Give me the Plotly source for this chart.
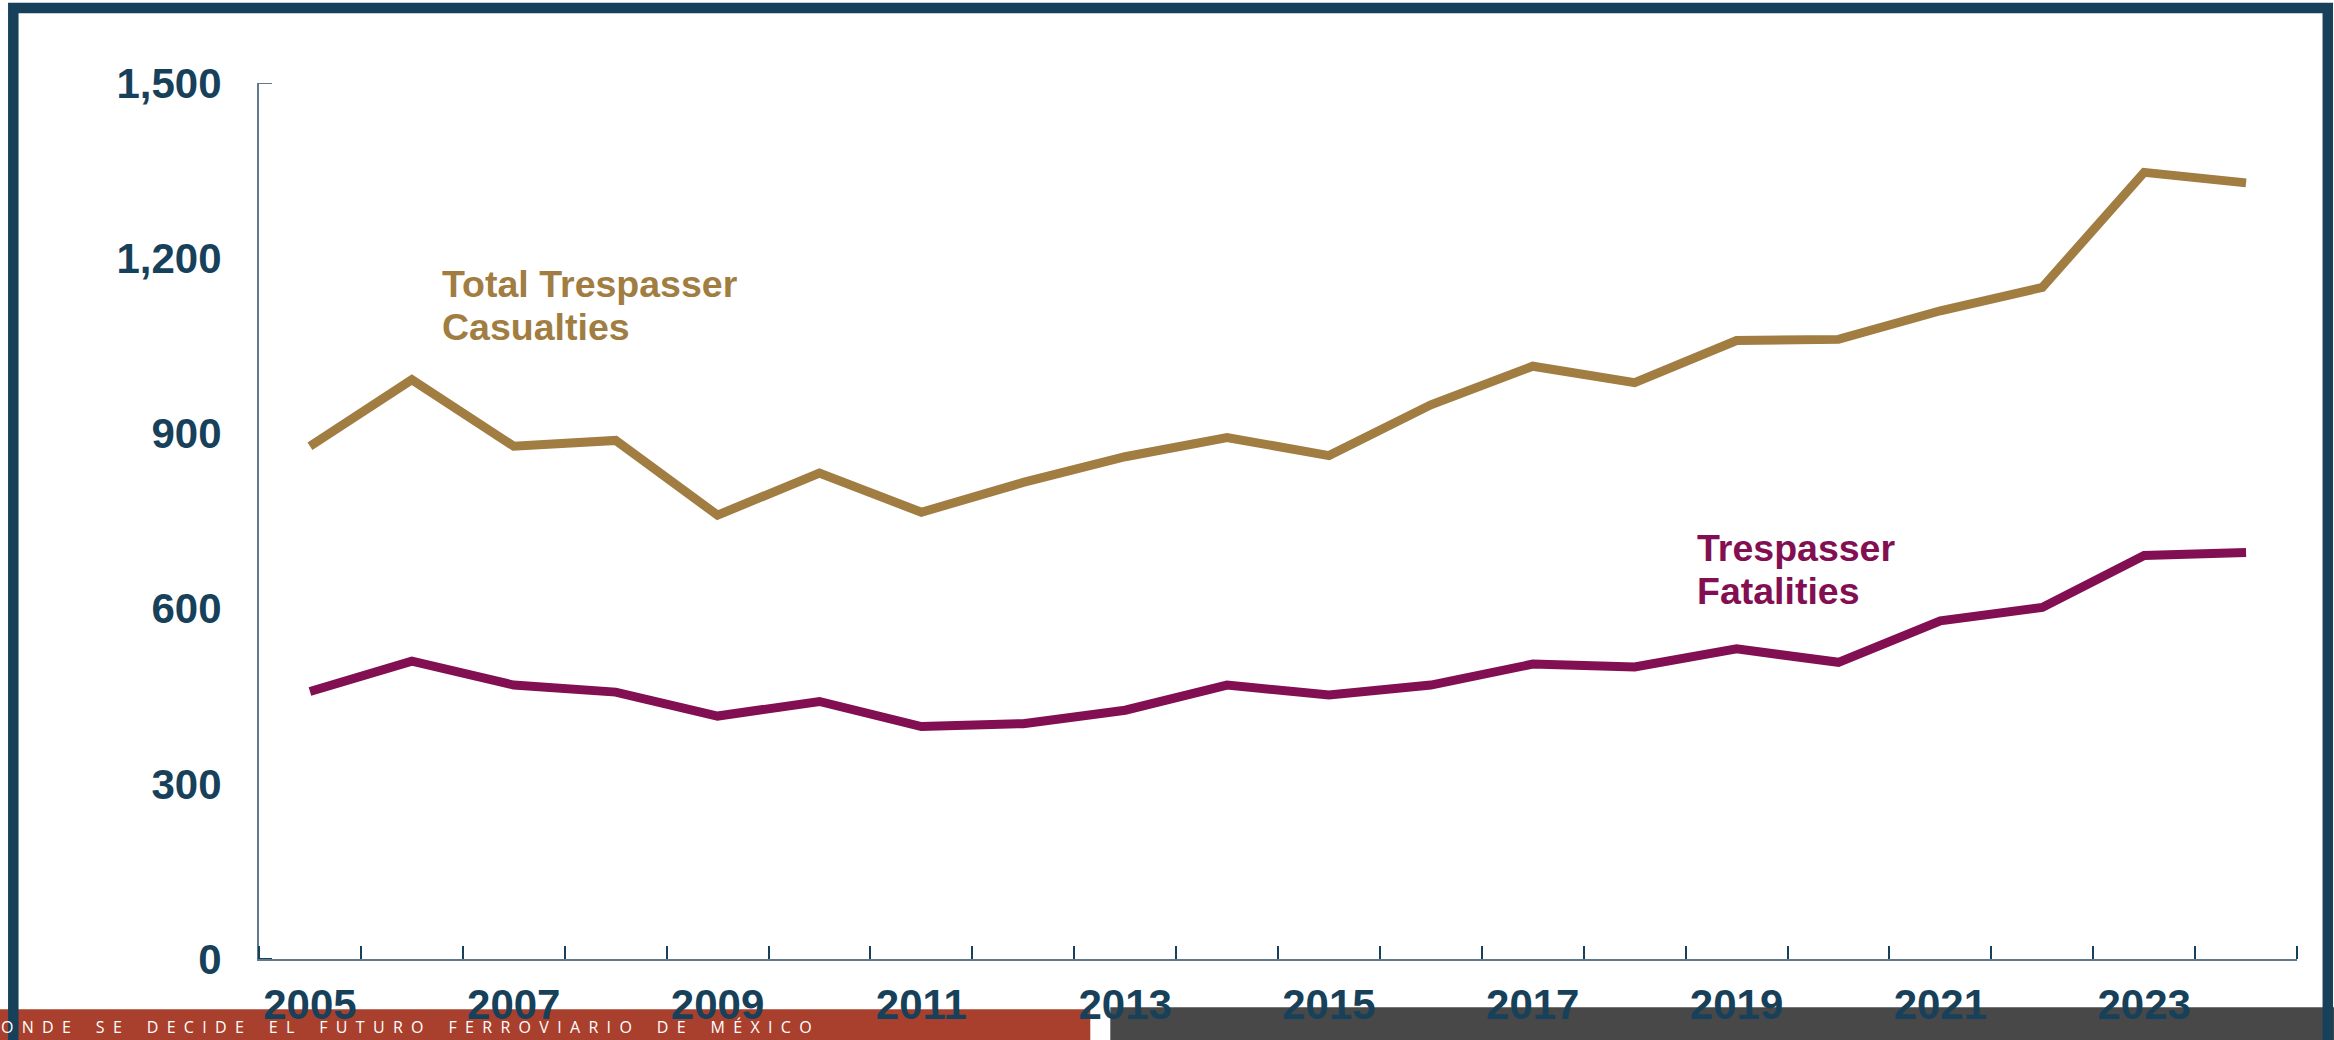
import plotly.graph_objects as go

# ---- data ----
years = list(range(2005, 2025))
total_casualties = [878, 992, 878, 888, 760, 832, 765, 816, 860, 893,
                    862, 949, 1015, 987, 1059, 1061, 1110, 1150, 1347, 1329]
fatalities = [458, 510, 469, 457, 416, 441, 398, 403, 426, 469,
              452, 469, 505, 500, 531, 508, 579, 602, 691, 696]
x_tick_years = [2005, 2007, 2009, 2011, 2013, 2015, 2017, 2019, 2021, 2023]
y_ticks = [0, 300, 600, 900, 1200, 1500]
y_tick_text = ["0", "300", "600", "900", "1,200", "1,500"]

GOLD = "#A17D42"
PURPLE = "#820F52"
NAVY = "#17415A"
RED = "#A9402D"
GRAY = "#484848"

W, H = 2334, 1040
L, R, T, B = 258.7, 2296.7, 83.0, 958.8   # plot area in pixels


def px(xp):
    return (xp - L) / (R - L)


def py(yp):
    return (B - yp) / (B - T)


fig = go.Figure()
fig.add_trace(go.Scatter(x=years, y=total_casualties, mode="lines",
                         line=dict(color=GOLD, width=9), hoverinfo="skip",
                         showlegend=False))
fig.add_trace(go.Scatter(x=years, y=fatalities, mode="lines",
                         line=dict(color=PURPLE, width=9), hoverinfo="skip",
                         showlegend=False))

tick_font = dict(family="Liberation Sans, Arial", size=42, color=NAVY, weight=700)

fig.update_xaxes(
    range=[2004.5, 2024.5], showgrid=False, zeroline=False, automargin=False,
    showline=True, linecolor="#60798c", linewidth=2,
    tickvals=x_tick_years, ticktext=[str(y) for y in x_tick_years],
    ticks="", tickfont=tick_font, ticklabelstandoff=8,
    minor=dict(tickvals=[y - 0.5 for y in years] + [years[-1] + 0.5],
               ticks="inside", ticklen=13, tickwidth=1.5, tickcolor=NAVY,
               showgrid=False),
)
fig.update_yaxes(
    range=[0, 1500], showgrid=False, zeroline=False, automargin=False,
    showline=True, linecolor="#60798c", linewidth=2,
    tickvals=y_ticks, ticktext=y_tick_text, ticks="",
    tickfont=tick_font, ticklabelstandoff=27,
)

shapes = [
    # end ticks on y axis
    dict(type="line", xref="paper", yref="y", x0=0, x1=px(L + 13), y0=0, y1=0,
         line=dict(color=NAVY, width=2)),
    dict(type="line", xref="paper", yref="y", x0=0, x1=px(L + 13), y0=1500, y1=1500,
         line=dict(color="#60798c", width=2)),
    # bottom bands
    dict(type="rect", xref="paper", yref="paper", x0=px(-5), x1=px(1090),
         y0=py(1009), y1=py(1050), fillcolor=RED, line=dict(width=0), layer="below"),
    dict(type="rect", xref="paper", yref="paper", x0=px(1110), x1=px(2345),
         y0=py(1007), y1=py(1050), fillcolor=GRAY, line=dict(width=0), layer="below"),
    # frame
    dict(type="rect", xref="paper", yref="paper", x0=px(13), x1=px(2327.5),
         y0=py(8), y1=py(1060), fillcolor="rgba(0,0,0,0)",
         line=dict(color=NAVY, width=10.5), layer="above"),
]

label_font_g = dict(family="Liberation Sans, Arial", size=37.5, color=GOLD, weight=700)
label_font_p = dict(family="Liberation Sans, Arial", size=37.5, color=PURPLE, weight=700)

annotations = [
    dict(text="Total Trespasser", x=px(440), y=py(283.5), xref="paper", yref="paper",
         xanchor="left", yanchor="middle", showarrow=False, font=label_font_g),
    dict(text="Casualties", x=px(440), y=py(327), xref="paper", yref="paper",
         xanchor="left", yanchor="middle", showarrow=False, font=label_font_g),
    dict(text="Trespasser", x=px(1695), y=py(548), xref="paper", yref="paper",
         xanchor="left", yanchor="middle", showarrow=False, font=label_font_p),
    dict(text="Fatalities", x=px(1695), y=py(590.5), xref="paper", yref="paper",
         xanchor="left", yanchor="middle", showarrow=False, font=label_font_p),
]

slogan = "DONDE SE DECIDE EL FUTURO FERROVIARIO DE MÉXICO"
spaced = ("\u00a0" * 6).join(("\u00a0" * 2).join(list(w)) for w in slogan.split(" "))
annotations.append(
    dict(text=spaced, x=px(814), y=py(1027), xref="paper", yref="paper",
         xanchor="right", yanchor="middle", showarrow=False,
         font=dict(family="Open Sans, Lato", size=16, color="white"))
)

fig.update_layout(
    width=W, height=H,
    margin=dict(l=L, r=W - R, t=T, b=H - B, pad=0),
    paper_bgcolor="white", plot_bgcolor="white",
    shapes=shapes, annotations=annotations,
)

fig.write_html("out.html", config={"displayModeBar": False})
